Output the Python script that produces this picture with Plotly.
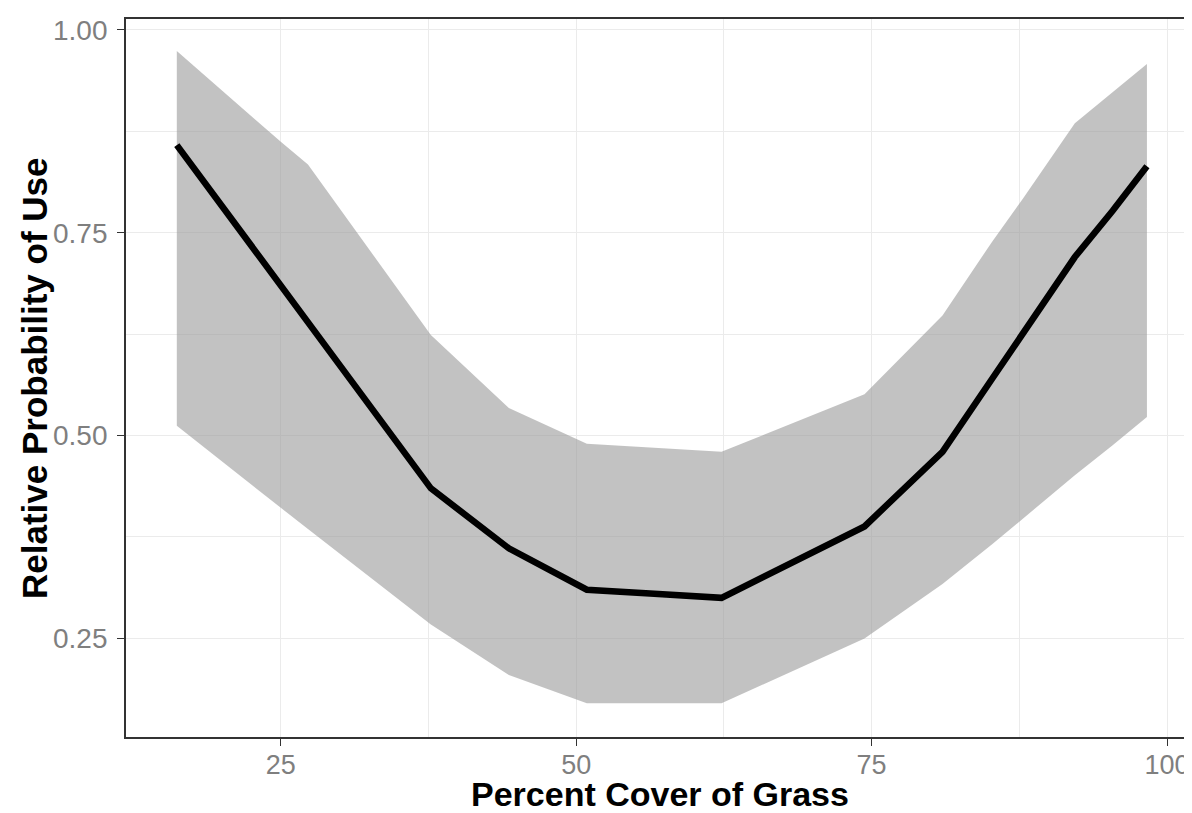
import plotly.graph_objects as go

# Data
grass_cover = [16.2, 25.0, 27.3, 37.7, 44.3, 50.9, 56.6, 62.3, 74.4, 81.0, 85.2, 87.8, 92.2, 95.4, 98.3]
prob_fit = [0.858, 0.685, 0.640, 0.435, 0.361, 0.310, 0.305, 0.300, 0.388, 0.480, 0.570, 0.625, 0.720, 0.777, 0.832]
prob_upper = [0.974, 0.862, 0.834, 0.624, 0.534, 0.490, 0.485, 0.480, 0.551, 0.648, 0.739, 0.792, 0.885, 0.923, 0.958]
prob_lower = [0.512, 0.411, 0.385, 0.267, 0.205, 0.170, 0.170, 0.170, 0.250, 0.317, 0.366, 0.398, 0.451, 0.488, 0.523]

x_ticks = [25, 50, 75, 100]
y_ticks = [0.25, 0.50, 0.75, 1.00]
y_tick_text = ["0.25", "0.50", "0.75", "1.00"]
x_title = "Percent Cover of Grass"
y_title = "Relative Probability of Use"

fig = go.Figure()

fig.add_trace(go.Scatter(
    x=grass_cover + grass_cover[::-1],
    y=prob_upper + prob_lower[::-1],
    fill="toself",
    fillcolor="rgba(153,153,153,0.6)",
    line=dict(width=0),
    mode="lines",
    hoverinfo="skip",
    showlegend=False,
))

fig.add_trace(go.Scatter(
    x=grass_cover,
    y=prob_fit,
    mode="lines",
    line=dict(color="black", width=6.5),
    showlegend=False,
))

font_family = "Liberation Sans, Arial, sans-serif"
grid_col = "#ebebeb"

fig.update_layout(
    width=1192,
    height=813,
    margin=dict(l=118, r=7, t=11, b=84, autoexpand=False),
    plot_bgcolor="white",
    paper_bgcolor="white",
    font=dict(family=font_family),
    annotations=[
        dict(text="<b>" + x_title + "</b>", xref="paper", yref="paper",
             x=0.5, y=-0.079, xanchor="center", yanchor="middle",
             showarrow=False, font=dict(size=34, color="black", family=font_family)),
        dict(text="<b>" + y_title + "</b>", xref="paper", yref="paper",
             x=-0.0862, y=0.5, xanchor="center", yanchor="middle", textangle=-90,
             showarrow=False, font=dict(size=35, color="black", family=font_family)),
    ],
)

fig.update_xaxes(
    range=[11.9, 102.2],
    tickmode="array",
    tickvals=x_ticks,
    ticktext=[str(v) for v in x_ticks],
    ticks="outside",
    ticklen=7,
    tickwidth=1.2,
    tickcolor="#333333",
    tickfont=dict(size=27, color="#7f7f7f", family=font_family),
    ticklabelstandoff=-4,
    showgrid=True,
    gridcolor=grid_col,
    gridwidth=1.2,
    minor=dict(tickmode="array", tickvals=[37.5, 62.5, 87.5], showgrid=True,
               gridcolor=grid_col, gridwidth=0.8, ticks=""),
    showline=True,
    mirror=True,
    linecolor="#333333",
    linewidth=1.8,
    zeroline=False,
    automargin=False,
)

fig.update_yaxes(
    range=[0.1285, 1.0134],
    tickmode="array",
    tickvals=y_ticks,
    ticktext=y_tick_text,
    ticks="outside",
    ticklen=7,
    tickwidth=1.2,
    tickcolor="#333333",
    tickfont=dict(size=28, color="#7f7f7f", family=font_family),
    ticklabelstandoff=4,
    showgrid=True,
    gridcolor=grid_col,
    gridwidth=1.2,
    minor=dict(tickmode="array", tickvals=[0.375, 0.625, 0.875], showgrid=True,
               gridcolor=grid_col, gridwidth=0.8, ticks=""),
    showline=True,
    mirror=True,
    linecolor="#333333",
    linewidth=1.8,
    zeroline=False,
    automargin=False,
)

fig.write_html("out.html")
